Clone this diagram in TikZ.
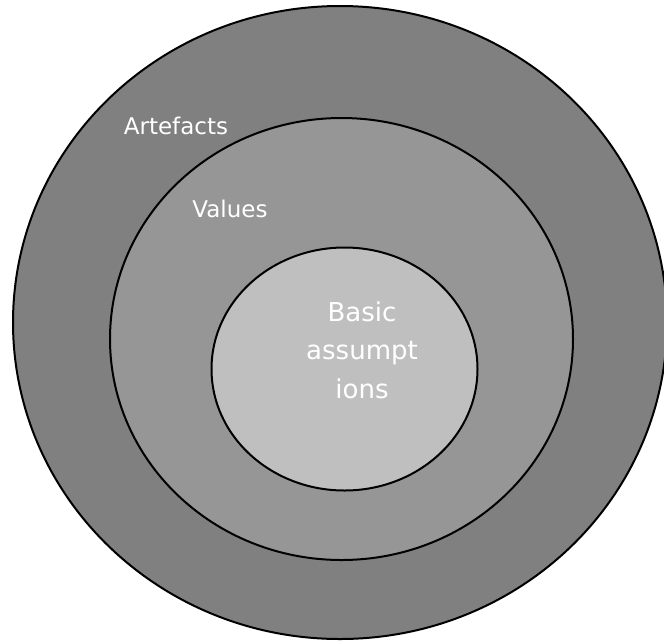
\documentclass[tikz,border=0pt]{standalone}
\usepackage{fontspec}
\setmainfont{DejaVu Sans}
\usetikzlibrary{shapes.geometric}

\begin{document}
\begin{tikzpicture}[x=1pt, y=-1pt,
  layer/.style={ellipse, draw=black, line width=2pt, inner sep=0pt},
  lbl/.style={text=white, inner sep=0pt, anchor=base}]
  \useasboundingbox (0,0) rectangle (664,641);
  % three nested layers, outside in
  \node[layer, fill=black!50, minimum width=654pt, minimum height=633pt] (outer) at (340,322.5) {};
  \node[layer, fill=black!41, minimum width=463pt, minimum height=442pt] (middle) at (341.5,339) {};
  \node[layer, fill=black!25, minimum width=266pt, minimum height=243pt] (inner) at (344.5,369) {};
  % layer names
  \node[lbl, font=\fontsize{23}{28}\selectfont] (artefacts) at (176,134) {Artefacts};
  \node[lbl, font=\fontsize{23}{28}\selectfont] (values) at (230,217) {Values};
  \node[text=white, inner sep=0pt, align=center, font=\fontsize{26}{38.5}\selectfont] (assumptions) at (362,350) {Basic\\assumpt\\ions};
\end{tikzpicture}
\end{document}
